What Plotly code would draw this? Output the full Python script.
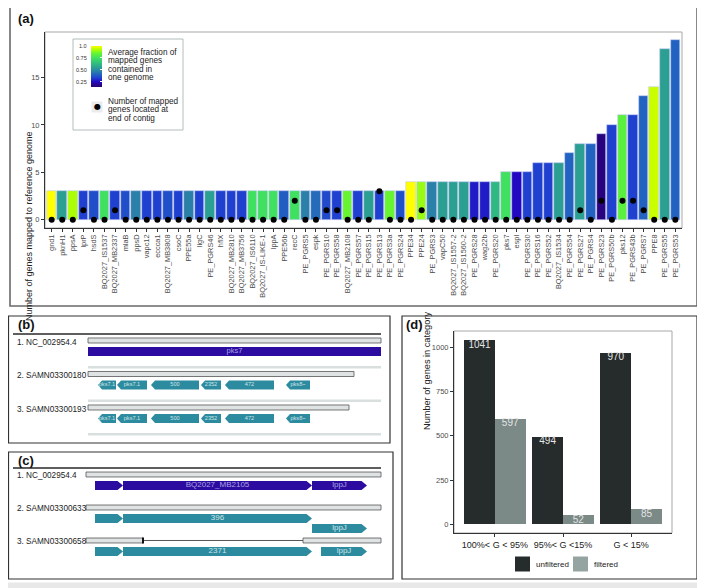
import plotly.graph_objects as go

# The page body has an 8px margin, so the figure is laid out in reference pixels shifted by 8.
OFF = 8
W, H = 705 - OFF, 588 - OFF
FONT = "Liberation Sans, Arial, sans-serif"

# ---------------- data: panel (a) ----------------
genes = ["gnd1", "pknH1", "ppsA", "lprP", "hsdS", "BQ2027_IS1537", "BQ2027_MB2337", "mlaB",
         "ppsD", "vapc12", "eccca1", "BQ2027_MB3808", "csoC", "PPE55a", "ligC", "PE_PGRS46",
         "hflX", "BQ2027_MB2810", "BQ2027_MB3756", "BQ2027_IS6110", "BQ2027_IS-LIKE-1", "lppA",
         "PPE56b", "recC", "PE_PGRS5", "espk", "PE_PGRS10", "PE_PGRS58", "BQ2027_MB2108",
         "PE_PGRS57", "PE_PGRS15", "PE_PGRS13", "PE_PGRS3a", "PE_PGRS24", "PPE34", "PPE24",
         "PE_PGRS3", "vapC50", "BQ2027_IS1557-2", "BQ2027_IS1560-2", "PE_PGRS28", "wag22b",
         "PE_PGRS20", "pks7", "espI", "PE_PGRS30", "PE_PGRS16", "PE_PGRS52", "BQ2027_IS1534",
         "PE_PGRS54", "PE_PGRS27", "PE_PGRS4", "PE_PGRS23", "PE_PGRS50b", "pks12",
         "PE_PGRS43b", "PE_PGRS7", "PPE8", "PE_PGRS55", "PE_PGRS53"]
gene_counts = [3] * 34 + [4] * 9 + [5, 5, 5, 6, 6, 6, 7, 8, 8, 9, 10, 11, 11, 13, 14, 18, 19]
end_counts = [0, 0, 0, 1, 0, 0, 1, 0, 0, 0, 0, 0, 0, 0, 0, 0, 0, 0, 0, 0, 0, 0, 0, 2, 0, 0,
              1, 1, 0, 0, 0, 3, 0, 0, 0, 1, 0, 0, 0, 0, 0, 0, 0, 0, 0, 0, 0, 0, 0, 0, 1, 0,
              2, 0, 2, 2, 1, 0, 0, 0]
avg_fraction = [1.0, 0.55, 0.92, 0.33, 0.36, 0.75, 0.33, 0.36, 0.47, 0.33, 0.33, 0.36, 0.33,
                0.47, 0.33, 0.55, 0.33, 0.33, 0.33, 0.75, 0.75, 0.75, 0.39, 0.75, 0.47, 0.42,
                0.35, 0.33, 0.85, 0.33, 0.55, 0.33, 0.85, 0.36, 1.0, 0.90, 0.47, 0.55, 0.55,
                0.55, 0.28, 0.28, 0.62, 0.75, 0.25, 0.33, 0.33, 0.33, 0.55, 0.40, 0.55, 0.40,
                0.17, 0.33, 0.82, 0.33, 0.40, 0.95, 0.55, 0.40]
cbar_ticks = [0.25, 0.5, 0.75, 1.0]
cbar_labels = ["0.25", "0.50", "0.75", "1.0"]
frac_min, frac_max = 0.14, 1.0
colour_stops = [(0.14, "#2b0068"), (0.25, "#2208c0"), (0.33, "#2040d0"), (0.40, "#2262c0"),
                (0.47, "#2a80a8"), (0.55, "#2ba092"), (0.63, "#31bb80"), (0.75, "#40e060"),
                (0.85, "#66f530"), (0.93, "#b5ff00"), (1.0, "#ffff00")]
fill_legend_lines = ["Average fraction of", "mapped genes", "contained in", "one genome"]
dot_legend_lines = ["Number of mapped", "genes located at", "end of contig"]

# ---------------- data: panel (b) ----------------
b_rows = ["1. NC_002954.4", "2. SAMN03300180", "3. SAMN03300193"]
b_contig_len = [29.3, 26.6, 26.1]
b_gene_row = [0, 1, 1, 1, 1, 1, 1, 2, 2, 2, 2, 2, 2]
b_gene_start = [0.0, 1.0, 2.9, 6.3, 11.3, 13.7, 19.8, 1.0, 2.9, 6.3, 11.3, 13.7, 19.8]
b_gene_end = [29.3, 2.8, 5.9, 11.1, 13.3, 18.6, 22.2, 2.8, 5.9, 11.1, 13.3, 18.6, 22.2]
b_gene_strand = [0, -1, -1, -1, -1, -1, -1, -1, -1, -1, -1, -1, -1]
b_gene_label = ["pks7", "pks7.1", "pks7.1", "500", "2352", "472", "pks8~",
                "pks7.1", "pks7.1", "500", "2352", "472", "pks8~"]

# ---------------- data: panel (c) ----------------
c_rows = ["1. NC_002954.4", "2. SAMN03300633", "3. SAMN03300658"]
c_seg_row = [0, 1, 2, 2]
c_seg_start = [0.0, 0.0, 0.0, 21.7]
c_seg_end = [29.5, 29.5, 5.7, 29.5]
c_gap_row = [2]
c_gap_start = [5.7]
c_gap_end = [21.7]
c_break_row = [0, 1]
c_break_pos = [5.6, 5.6]
c_gene_row = [0, 0, 0, 1, 1, 1, 2, 2, 2]
c_gene_lane = [0, 0, 0, 0, 0, 1, 0, 0, 0]
c_gene_start = [0.9, 3.7, 22.6, 0.9, 3.7, 22.6, 0.9, 3.7, 23.5]
c_gene_end = [3.7, 22.6, 28.1, 3.7, 22.6, 28.1, 3.7, 22.6, 28.1]
c_gene_strand = [1, 1, 1, 1, 1, 1, 1, 1, 1]
c_gene_label = ["", "BQ2027_MB2105", "lppJ", "", "396", "lppJ", "", "2371", "lppJ"]

# ---------------- data: panel (d) ----------------
d_categories = ["100%< G < 95%", "95%< G <15%", "G < 15%"]
d_unfiltered = [1041, 494, 970]
d_filtered = [597, 52, 85]
d_series = ["unfiltered", "filtered"]

# ---------------- styles ----------------
REF_COL, REF_TXT = "#2b0ba0", "#aaa2e2"
OTH_COL, OTH_TXT = "#2c8b9f", "#cfe3e8"
UNF_COL, FIL_COL, FIL_KEY = "#262b2c", "#7b8a87", "#96a4a1"


def px(x):
    return (x - OFF) / W


def py(y):
    return 1 - (y - OFF) / H


def gene_poly(s, e, yc, strand, h, ah):
    tip = min(ah, (e - s) * 0.5)
    if strand > 0:
        xs = [s, e - tip, e, e - tip, s, s]
        ys = [yc - h, yc - h, yc, yc + h, yc + h, yc - h]
    elif strand < 0:
        xs = [e, s + tip, s, s + tip, e, e]
        ys = [yc - h, yc - h, yc, yc + h, yc + h, yc - h]
    else:
        xs = [s, e, e, s, s]
        ys = [yc - h, yc - h, yc + h, yc + h, yc - h]
    return xs, ys


fig = go.Figure()
shapes, annotations = [], []

# ---------------- panel (a) ----------------
cs = [[(v - frac_min) / (frac_max - frac_min), c] for v, c in colour_stops]
idx = list(range(len(genes)))
fig.add_trace(go.Bar(
    x=idx, y=gene_counts, width=0.9, xaxis="x", yaxis="y",
    marker=dict(color=avg_fraction, colorscale=cs, cmin=frac_min, cmax=frac_max,
                line=dict(color="#c4ccf2", width=0.6), showscale=True,
                colorbar=dict(x=px(91), xanchor="left", xref="paper", y=py(46), yanchor="top",
                              yref="paper", len=41, lenmode="pixels", thickness=11,
                              thicknessmode="pixels", xpad=0, ypad=0, outlinewidth=0,
                              tickvals=cbar_ticks, ticks="inside", ticklen=2,
                              tickcolor="white", showticklabels=False)),
    showlegend=False, hoverinfo="skip"))
fig.add_trace(go.Scatter(
    x=idx, y=end_counts, mode="markers", xaxis="x", yaxis="y",
    marker=dict(color="black", size=6), showlegend=False, cliponaxis=False, hoverinfo="skip"))

# legend box for (a)
shapes.append(dict(type="rect", xref="paper", yref="paper", x0=px(73), x1=px(183), y0=py(130),
                   y1=py(39), fillcolor="white", line=dict(color="#b3bcbc", width=1), layer="above"))
for v, t in zip(cbar_ticks, cbar_labels):
    ypx = 87 - (v - frac_min) / (frac_max - frac_min) * 41
    annotations.append(dict(xref="paper", yref="paper", x=px(89), y=py(ypx), text=t,
                            xanchor="right", yanchor="middle", showarrow=False,
                            font=dict(size=5.5, color="#333", family=FONT)))
for i, line in enumerate(fill_legend_lines):
    annotations.append(dict(xref="paper", yref="paper", x=px(106), y=py(52.5 + i * 8.35), text=line,
                            xanchor="left", yanchor="middle", showarrow=False,
                            font=dict(size=8.2, color="#222", family=FONT)))
shapes.append(dict(type="rect", xref="paper", yref="paper", x0=px(91.5), x1=px(102.5),
                   y0=py(112.5), y1=py(101.5), fillcolor="#ebebeb", line=dict(width=0), layer="above"))
annotations.append(dict(xref="paper", yref="paper", x=px(97), y=py(107), text="●",
                        xanchor="center", yanchor="middle", showarrow=False,
                        font=dict(size=8, color="black", family="DejaVu Sans")))
for i, line in enumerate(dot_legend_lines):
    annotations.append(dict(xref="paper", yref="paper", x=px(106), y=py(101.5 + i * 8.35), text=line,
                            xanchor="left", yanchor="middle", showarrow=False,
                            font=dict(size=8.2, color="#222", family=FONT)))
shapes.append(dict(type="rect", xref="paper", yref="paper", x0=px(45), x1=px(682), y0=py(228),
                   y1=py(32), line=dict(color="#a8a8a8", width=1), layer="below"))
annotations.append(dict(xref="paper", yref="paper", x=px(22), y=py(129),
                        text="Number of genes mapped to reference genome", textangle=-90,
                        showarrow=False, font=dict(size=9, color="#222", family=FONT)))

# ---------------- panel (b) ----------------
for r, L in enumerate(b_contig_len):
    if r == 0:
        shapes.append(dict(type="line", xref="x2", yref="y2", x0=-7.5, x1=L, y0=r - 0.19, y1=r - 0.19,
                           line=dict(color="#5e5e5e", width=2)))
    shapes.append(dict(type="rect", xref="x2", yref="y2", x0=0, x1=L, y0=r - 0.075, y1=r + 0.075,
                       fillcolor="#dfe3e3", line=dict(color="#555", width=0.8)))
    shapes.append(dict(type="line", xref="x2", yref="y2", x0=0, x1=b_contig_len[0],
                       y0=r + 0.8, y1=r + 0.8, line=dict(color="#d9dfdf", width=2.5)))
    annotations.append(dict(xref="paper", yref="y2", x=px(15), y=r + 0.05, text=b_rows[r],
                            xanchor="left", yanchor="middle", showarrow=False,
                            font=dict(size=8.2, color="#222", family=FONT)))
b_lab_x, b_lab_y, b_lab_c = [], [], []
for r, s, e, st, lab in zip(b_gene_row, b_gene_start, b_gene_end, b_gene_strand, b_gene_label):
    col, tcol = (REF_COL, REF_TXT) if r == 0 else (OTH_COL, OTH_TXT)
    xs, ys = gene_poly(s, e, r + 0.33, st, 0.135, 0.4)
    fig.add_trace(go.Scatter(x=xs, y=ys, xaxis="x2", yaxis="y2", mode="lines", fill="toself",
                             fillcolor=col, line=dict(width=0, color=col), showlegend=False,
                             hoverinfo="skip"))
    b_lab_x.append((s + e) / 2)
    b_lab_y.append(r + 0.33)
    b_lab_c.append(tcol)
fig.add_trace(go.Scatter(x=b_lab_x, y=b_lab_y, text=b_gene_label, mode="text", xaxis="x2",
                         yaxis="y2", textfont=dict(size=[7.5] + [5.6] * 12, color=b_lab_c, family=FONT),
                         showlegend=False, hoverinfo="skip"))

# ---------------- panel (c) ----------------
shapes.append(dict(type="line", xref="x3", yref="y3", x0=-7.3, x1=29.5, y0=-0.197, y1=-0.197,
                   line=dict(color="#5e5e5e", width=2)))
for r, s, e in zip(c_gap_row, c_gap_start, c_gap_end):
    shapes.append(dict(type="line", xref="x3", yref="y3", x0=s, x1=e, y0=r, y1=r,
                       line=dict(color="#555", width=1)))
for r, s, e in zip(c_seg_row, c_seg_start, c_seg_end):
    shapes.append(dict(type="rect", xref="x3", yref="y3", x0=s, x1=e, y0=r - 0.075, y1=r + 0.075,
                       fillcolor="#dfe3e3", line=dict(color="#555", width=0.8)))
for r, s in zip(c_gap_row, c_gap_start):
    shapes.append(dict(type="line", xref="x3", yref="y3", x0=s, x1=s, y0=r - 0.09, y1=r + 0.09,
                       line=dict(color="#111", width=2)))
for r, name in enumerate(c_rows):
    annotations.append(dict(xref="paper", yref="y3", x=px(15), y=r + 0.02, text=name,
                            xanchor="left", yanchor="middle", showarrow=False,
                            font=dict(size=8.2, color="#222", family=FONT)))
fig.add_trace(go.Scatter(x=c_break_pos, y=c_break_row, xaxis="x3", yaxis="y3", mode="markers",
                         marker=dict(symbol="x-thin-open", size=4, line=dict(color="#444", width=1.2)),
                         showlegend=False, hoverinfo="skip"))
c_lab_x, c_lab_y, c_lab_c = [], [], []
for r, ln, s, e, st in zip(c_gene_row, c_gene_lane, c_gene_start, c_gene_end, c_gene_strand):
    col, tcol = (REF_COL, REF_TXT) if r == 0 else (OTH_COL, OTH_TXT)
    yc = r + (0.333 if ln == 0 else 0.636)
    xs, ys = gene_poly(s, e, yc, st, 0.135, 0.55)
    fig.add_trace(go.Scatter(x=xs, y=ys, xaxis="x3", yaxis="y3", mode="lines", fill="toself",
                             fillcolor=col, line=dict(width=0, color=col), showlegend=False,
                             hoverinfo="skip"))
    c_lab_x.append((s + e) / 2)
    c_lab_y.append(yc)
    c_lab_c.append(tcol)
fig.add_trace(go.Scatter(x=c_lab_x, y=c_lab_y, text=c_gene_label, mode="text", xaxis="x3",
                         yaxis="y3", textfont=dict(size=8, color=c_lab_c, family=FONT),
                         showlegend=False, hoverinfo="skip"))

# ---------------- panel (d) ----------------
dodge = 0.225
gidx = list(range(len(d_categories)))
for vals, col, off in ((d_unfiltered, UNF_COL, -dodge), (d_filtered, FIL_COL, dodge)):
    xs = [g + off for g in gidx]
    fig.add_trace(go.Bar(x=xs, y=vals, width=0.45, xaxis="x4", yaxis="y4",
                         marker=dict(color=col, line=dict(width=0)), showlegend=False,
                         hoverinfo="skip"))
    fig.add_trace(go.Scatter(x=xs, y=vals, text=[str(v) for v in vals], mode="text",
                             textposition="bottom center", xaxis="x4", yaxis="y4",
                             textfont=dict(size=10, color="#e4e4e4", family=FONT),
                             showlegend=False, cliponaxis=False, hoverinfo="skip"))
shapes.append(dict(type="rect", xref="paper", yref="paper", x0=px(454), x1=px(672), y0=py(533),
                   y1=py(331), line=dict(color="#a8a8a8", width=1), layer="below"))
annotations.append(dict(xref="paper", yref="paper", x=px(427), y=py(432),
                        text="Number of genes in category", textangle=-90,
                        showarrow=False, font=dict(size=9.2, color="#222", family=FONT)))
key_x = [515, 573]
text_x = [534, 592]
for kx, tx, name, kc in zip(key_x, text_x, d_series, (UNF_COL, FIL_KEY)):
    shapes.append(dict(type="rect", xref="paper", yref="paper", x0=px(kx), x1=px(kx + 15),
                       y0=py(571.5), y1=py(556.5), fillcolor=kc, line=dict(width=0)))
    annotations.append(dict(xref="paper", yref="paper", x=px(tx), y=py(564), text=name,
                            xanchor="left", yanchor="middle", showarrow=False,
                            font=dict(size=8, color="#222", family=FONT)))

# ---------------- panel frames & labels ----------------
frames = [(10, 7, 697, 306, "#6a6a6a", 1.6), (8.5, 316, 390, 443, "#333", 1.2),
          (8.5, 452, 393, 579, "#333", 1.2), (402, 316, 697, 579, "#333", 1.2)]
for x0, y0, x1, y1, c, w in frames:
    shapes.append(dict(type="rect", xref="paper", yref="paper", x0=px(x0), x1=px(x1), y0=py(y1),
                       y1=py(y0), line=dict(color=c, width=w), layer="above"))
shapes.append(dict(type="rect", xref="paper", yref="paper", x0=px(699.5), x1=1, y0=0, y1=1,
                   fillcolor="#e8e8e8", line=dict(width=0), layer="above"))
shapes.append(dict(type="rect", xref="paper", yref="paper", x0=0, x1=1, y0=0, y1=py(582.5),
                   fillcolor="#e8e8e8", line=dict(width=0), layer="above"))
for lab, x, y in (("(a)", 16, 19), ("(b)", 16, 324), ("(c)", 16, 460), ("(d)", 404, 324)):
    annotations.append(dict(xref="paper", yref="paper", x=px(x), y=py(y), text="<b>" + lab + "</b>",
                            xanchor="left", yanchor="middle", showarrow=False,
                            font=dict(size=13, color="#111", family=FONT)))

hidden = dict(visible=False, showgrid=False, zeroline=False, fixedrange=True)
fig.update_layout(
    width=W, height=H, autosize=False, margin=dict(l=0, r=0, t=0, b=0),
    paper_bgcolor="white", plot_bgcolor="white", font=dict(family=FONT),
    xaxis=dict(domain=[px(45), px(682)], range=[-0.63, len(genes) - 0.37], tickmode="array",
               tickvals=idx, ticktext=genes, tickangle=-90, ticks="outside", ticklen=2.5,
               tickcolor="#333", tickfont=dict(size=7.4, color="#4d4d4d", family=FONT),
               showline=True, linecolor="#333", linewidth=1, showgrid=False, zeroline=False,
               anchor="y"),
    yaxis=dict(domain=[py(228), py(32)], range=[-0.88, 19.8], tickvals=[0, 5, 10, 15],
               ticks="outside", ticklen=3, tickcolor="#333",
               tickfont=dict(size=7.5, color="#4d4d4d", family=FONT), showline=True,
               linecolor="#333", linewidth=1, showgrid=False, zeroline=False, anchor="x"),
    xaxis2=dict(domain=[px(8.5), px(390)], range=[-7.95, 30.2], anchor="y2", **hidden),
    yaxis2=dict(domain=[py(443), py(316)], range=[3.06, -0.731], anchor="x2", **hidden),
    xaxis3=dict(domain=[px(8.5), px(393)], range=[-7.75, 30.7], anchor="y3", **hidden),
    yaxis3=dict(domain=[py(579), py(452)], range=[3.167, -0.682], anchor="x3", **hidden),
    xaxis4=dict(domain=[px(454), px(672)], range=[-0.6, 2.6], tickmode="array", tickvals=gidx,
                ticktext=d_categories, tickangle=0, ticks="outside", ticklen=3, tickcolor="#333",
                tickfont=dict(size=9, color="#222", family=FONT), showline=True,
                linecolor="#333", linewidth=1, showgrid=False, zeroline=False, anchor="y4"),
    yaxis4=dict(domain=[py(533), py(331)], range=[-49, 1092], tickvals=[0, 250, 500, 750, 1000],
                ticks="outside", ticklen=3, tickcolor="#333",
                tickfont=dict(size=7.5, color="#4d4d4d", family=FONT), showline=True,
                linecolor="#333", linewidth=1, showgrid=False, zeroline=False, anchor="x4"),
    shapes=shapes, annotations=annotations, bargap=0,
)

fig.write_html("out.html")
